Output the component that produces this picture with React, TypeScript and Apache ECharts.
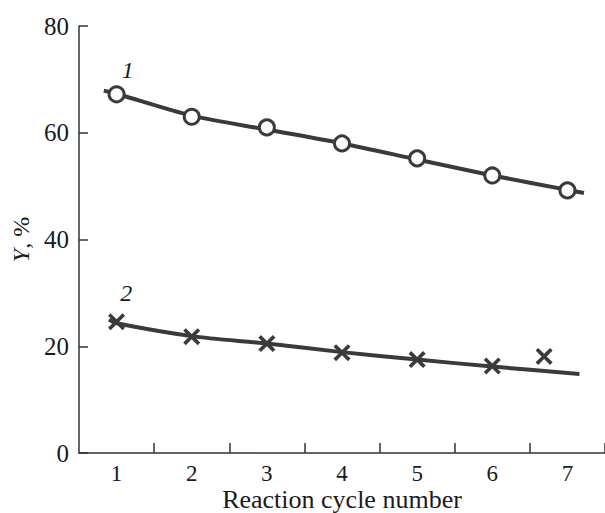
import React, { useEffect, useRef } from "react";
import * as echarts from "echarts";

const cycleLabels = [1, 2, 3, 4, 5, 6, 7];
const tickPositions = [1.5, 2.5, 3.5, 4.5, 5.5, 6.5, 7.5];
const yTicks = [0, 20, 40, 60, 80];

// Series 1 (circles)
const s1Points: [number, number][] = [
  [1, 67.2], [2, 63.0], [3, 61.0], [4, 58.0], [5, 55.2], [6, 52.0], [7, 49.2],
];
const s1Curve: [number, number][] = [
  [0.83, 67.9], [1, 67.3], [2, 63.2], [3, 60.6], [4, 58.0], [5, 55.0], [6, 52.0], [7, 49.3], [7.22, 48.7],
];

// Series 2 (crosses)
const s2Points: [number, number][] = [
  [1, 24.6], [2, 21.8], [3, 20.5], [4, 18.8], [5, 17.5], [6, 16.3], [6.69, 18.1],
];
const s2Curve: [number, number][] = [
  [0.9, 25.0], [1, 24.3], [2, 21.9], [3, 20.5], [4, 18.9], [5, 17.5], [6, 16.2], [7.16, 14.8],
];

const curveLabels = [
  { name: "1", coord: [1.15, 71.8] },
  { name: "2", coord: [1.13, 30.0] },
];

const FONT = "'Liberation Serif', 'Times New Roman', serif";
const INK = "#3a3a3a";
const TXT = "#1a1a1a";
const CROSS =
  "path://M0,3 L3,0 L10,7 L17,0 L20,3 L13,10 L20,17 L17,20 L10,13 L3,20 L0,17 L7,10 Z";

function curveLabel(i: number) {
  return {
    symbol: "circle",
    symbolSize: 0,
    data: [
      {
        name: curveLabels[i].name,
        coord: curveLabels[i].coord,
        label: {
          show: true,
          formatter: curveLabels[i].name,
          fontFamily: FONT,
          fontStyle: "italic",
          fontSize: 24,
          color: TXT,
        },
      },
    ],
  };
}

export default function App() {
  const ref = useRef<HTMLDivElement>(null);
  useEffect(() => {
    if (!ref.current) return;
    const chart = echarts.init(ref.current, undefined, { renderer: "svg" });
    chart.setOption({
      animation: false,
      backgroundColor: "#ffffff",
      grid: { left: 79, right: 0, top: 26, bottom: 60, containLabel: false, outerBoundsMode: "none" },
      xAxis: {
        type: "value",
        min: 0.5,
        max: 7.5,
        name: "Reaction cycle number",
        nameLocation: "middle",
        nameGap: 46.5,
        nameMoveOverlap: false,
        nameTextStyle: { fontFamily: FONT, fontSize: 26, color: TXT, verticalAlign: "middle" },
        axisLine: { show: true, lineStyle: { color: "#333", width: 1.5 } },
        axisTick: { show: true, inside: true, length: 10, customValues: tickPositions, lineStyle: { color: "#333", width: 1.5 } },
        axisLabel: { customValues: cycleLabels, fontFamily: FONT, fontSize: 23, color: TXT, margin: 9 },
        splitLine: { show: false },
      },
      yAxis: {
        type: "value",
        min: 0,
        max: 80,
        interval: 20,
        name: "{i|Y}, %",
        nameLocation: "middle",
        nameRotate: 90,
        nameGap: 44,
        nameTextStyle: {
          fontFamily: FONT,
          fontSize: 24,
          color: TXT,
          rich: { i: { fontFamily: FONT, fontSize: 24, fontStyle: "italic", color: TXT } },
        },
        axisLine: { show: true, lineStyle: { color: "#333", width: 1.5 } },
        axisTick: { show: true, inside: true, length: 9, customValues: yTicks, lineStyle: { color: "#333", width: 1.5 } },
        axisLabel: { fontFamily: FONT, fontSize: 25, color: TXT, margin: 10 },
        splitLine: { show: false },
      },
      series: [
        {
          type: "line",
          data: s1Curve,
          smooth: 0.3,
          showSymbol: false,
          symbol: "none",
          lineStyle: { color: INK, width: 4 },
          z: 2,
          markPoint: curveLabel(0),
        },
        {
          type: "line",
          data: s2Curve,
          smooth: 0.3,
          showSymbol: false,
          symbol: "none",
          lineStyle: { color: INK, width: 4 },
          z: 2,
          markPoint: curveLabel(1),
        },
        {
          type: "scatter",
          data: s1Points,
          symbol: "circle",
          symbolSize: 15,
          itemStyle: { color: "#ffffff", borderColor: INK, borderWidth: 3, opacity: 1 },
          z: 3,
        },
        {
          type: "scatter",
          data: s2Points,
          symbol: CROSS,
          symbolSize: 17,
          itemStyle: { color: INK, opacity: 1 },
          z: 3,
        },
      ],
    });
    return () => chart.dispose();
  }, []);
  return <div ref={ref} style={{ width: 605, height: 513, position: "absolute", left: 0, top: 0 }} />;
}
